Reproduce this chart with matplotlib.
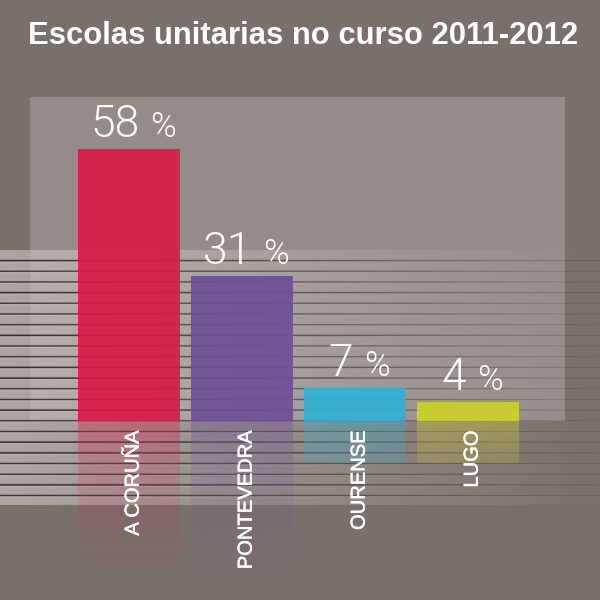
"""Escolas unitarias no curso 2011-2012 - share by province, bar chart."""
import matplotlib
matplotlib.use("Agg")
import matplotlib.pyplot as plt
import matplotlib.patheffects as pe
from matplotlib.offsetbox import TextArea, HPacker, AnnotationBbox
import numpy as np

# ---------------------------------------------------------------------------
# Data
# ---------------------------------------------------------------------------
TITLE = "Escolas unitarias no curso 2011-2012"
PROVINCES = ["A CORUÑA", "PONTEVEDRA", "OURENSE", "LUGO"]
SHARE_PCT = [58, 31, 7, 4]

# ---------------------------------------------------------------------------
# Style
# ---------------------------------------------------------------------------
BG = "#7a706b"
PANEL = "#958b88"
COLORS = ["#d71c48", "#6c5096", "#31b0d4", "#cdd02e"]
REFLECT_DEPTH = [30, 33, 9, 9]     # in % units, below the baseline
FONT = "Liberation Sans"
PX = 600.0

plt.rcParams["font.family"] = [FONT, "DejaVu Sans"]

fig = plt.figure(figsize=(6, 6), dpi=100)
fig.patch.set_facecolor(BG)

# background layer in pixel coordinates
ax_bg = fig.add_axes([0, 0, 1, 1])
ax_bg.set_xlim(0, PX)
ax_bg.set_ylim(PX, 0)
ax_bg.axis("off")

ax_bg.add_patch(plt.Rectangle((30, 97), 535, 324, color=PANEL, lw=0, zorder=1))

# striped band that fades towards the right
band_top, band_bot, sub = 250.0, 505.0, 4
rows = int((band_bot - band_top) * sub)
ys = band_top + (np.arange(rows) + 0.5) / sub
xs = np.linspace(0, PX, 300)
img = np.zeros((rows, len(xs), 4))
light = np.array([206, 200, 197]) / 255
dark = np.array([42, 32, 32]) / 255
hi = np.array([225, 220, 218]) / 255
a_light = np.clip(0.62 * (1 - xs / 600), 0.02, 1)
a_dark = np.clip(0.92 * (1 - xs / 700), 0.06, 1)
img[:, :, :3] = light
img[:, :, 3] = a_light
for k in range(23):
    c = 260.6 + k * 10.68
    d = ys - c
    m_dark = np.abs(d) < 0.8
    m_hi = (d >= 0.8) & (d < 1.9)
    img[m_dark, :, :3] = dark
    img[m_dark, :, 3] = a_dark
    img[m_hi, :, :3] = hi
    img[m_hi, :, 3] = a_light * 1.1
ax_bg.imshow(img, extent=(0, PX, band_bot, band_top), aspect="auto",
             interpolation="bilinear", zorder=2)
ax_bg.set_xlim(0, PX)
ax_bg.set_ylim(PX, 0)

fig.text(303 / PX, 1 - 43.5 / PX, TITLE, ha="center", va="baseline",
         fontsize=22.3, fontweight="bold", color="white")

# ---------------------------------------------------------------------------
# Bars
# ---------------------------------------------------------------------------
unit = 4.69                      # pixels per percentage point
base_px = 421.0
ymin, ymax = -36, 60
bottom = (PX - (base_px - ymin * unit)) / PX
height = (ymax - ymin) * unit / PX
ax = fig.add_axes([72.5 / PX, bottom, 452 / PX, height])
ax.patch.set_alpha(0)
ax.axis("off")

x = np.arange(len(PROVINCES))
ax.bar(x, SHARE_PCT, width=0.9, color=COLORS, alpha=0.93, zorder=3)

# faded reflections under each bar
for i, (col, depth) in enumerate(zip(COLORS, REFLECT_DEPTH)):
    n = 80
    d_px = np.linspace(0, depth * unit, n)
    grad = np.zeros((n, 1, 4))
    grad[:, 0, :3] = matplotlib.colors.to_rgb(col)
    grad[:, 0, 3] = 0.4 * np.exp(-d_px / 65)
    ax.imshow(grad, extent=(i - 0.45, i + 0.45, -depth, 0), aspect="auto",
              origin="upper", zorder=2)

label_fx = [pe.withStroke(linewidth=0.35, foreground="white")]
num_font = dict(color="white", family=["Roboto", FONT], fontweight=300)
for i, (name, v) in enumerate(zip(PROVINCES, SHARE_PCT)):
    ax.annotate(name, xy=(i, 0), xytext=(3, -7), textcoords="offset points",
                rotation=90, ha="center", va="top", fontsize=14.5,
                color="white", path_effects=label_fx, zorder=5)
    num = TextArea(str(v), textprops=dict(num_font, fontsize=32))
    pct = TextArea("%", textprops=dict(num_font, fontsize=25))
    pack = HPacker(children=[num, pct], sep=8, pad=0, align="baseline")
    ab = AnnotationBbox(pack, (i, v), xybox=(3, 2), boxcoords="offset points",
                        box_alignment=(0.5, 0), frameon=False, pad=0)
    ax.add_artist(ab)

ax.set_xlim(-0.5, len(PROVINCES) - 0.5)
ax.set_ylim(ymin, ymax)

fig.savefig("out.png", dpi=100, facecolor=BG)
